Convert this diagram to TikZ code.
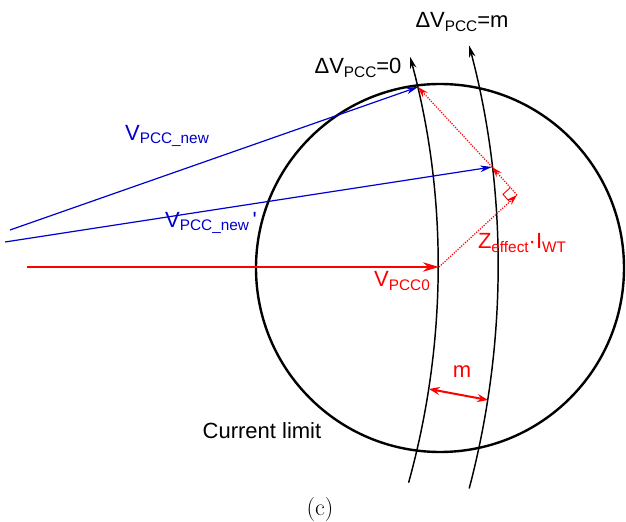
\documentclass[tikz,border=0pt]{standalone}
\usepackage{fontspec}
\usepackage{tikz}
\usetikzlibrary{arrows.meta,calc}
\newfontfamily\arial{Liberation Sans}
\newcommand{\lsub}[1]{\raisebox{-0.3ex}{\fontsize{11.5}{11.5}\selectfont #1}}

\begin{document}
\begin{tikzpicture}[x=0.75pt,y=0.75pt,
    lbl/.style={font=\arial\fontsize{16.5}{18}\selectfont, inner sep=0pt},
    vcurve/.style={line width=1.1pt, -{Stealth[length=9pt,width=5pt]}},
    bluevec/.style={blue!80!black, line width=0.9pt, -{Stealth[length=9pt,width=5pt]}},
    dotvec/.style={red, line width=0.9pt, densely dotted, -{Stealth[length=8pt,width=5pt]}}]
  \useasboundingbox (0,0) rectangle (626,522);

  % Define points
  \coordinate (O) at (-369,255);
  \coordinate (S0) at (27,255);
  \coordinate (Snew) at (10,292);
  \coordinate (Snew2) at (5,280);
  \coordinate (V0) at (439,255);
  \coordinate (Q) at (418,435);
  \coordinate (Q2) at (492,355);
  \coordinate (P) at (517,327);
  \coordinate (m1) at (429,133);
  \coordinate (m2) at (488,122);

  % Draw the current limit circle
  \draw[line width=1.8pt] (440,254) circle [radius=184];

  % Draw the constant voltage curves
  \draw[vcurve] ($(O)+(-15.5:807)$) arc[start angle=-15.5, end angle=15.1, radius=807];
  \draw[vcurve] ($(O)+(-14.8:867)$) arc[start angle=-14.8, end angle=14.8, radius=867];

  % Draw the voltage vectors
  \draw[red, line width=1.8pt, -{Stealth[length=12pt,width=7pt]}] (S0) -- (V0);
  \draw[bluevec] (Snew) -- (Q);
  \draw[bluevec] (Snew2) -- (Q2);

  % Draw the impedance drop
  \draw[dotvec] (V0) -- (P);
  \draw[dotvec] (P) -- (Q2);
  \draw[dotvec] (Q2) -- (Q);
  \coordinate (ra1) at ($(P)!7.5pt!(V0)$);
  \coordinate (ra2) at ($(P)!7.5pt!(Q2)$);
  \draw[red, line width=0.7pt] (ra1) -- ($(ra1)+(ra2)-(P)$) -- (ra2);

  % Draw the width m
  \draw[red, line width=1.5pt, {Stealth[length=8pt,width=6pt]}-{Stealth[length=8pt,width=6pt]}] (m1) -- (m2);

  % Label everything
  \node[lbl] (dv0) at (358,454) {ΔV\lsub{PCC}=0};
  \node[lbl] (dvm) at (462,500) {ΔV\lsub{PCC}=m};
  \node[lbl, blue!80!black] (vnew) at (167,386) {V\lsub{PCC\_new}};
  \node[lbl, blue!80!black] (vnew2) at (211,299) {V\lsub{PCC\_new}\,'};
  \node[lbl, red] (v0) at (402,241) {V\lsub{PCC0}};
  \node[lbl, red] (zi) at (522,279) {Z\lsub{effect}·I\lsub{WT}};
  \node[lbl, red] (m) at (462,150) {m};
  \node[lbl] (limit) at (262,91) {Current limit};
  \node[font=\fontsize{18}{20}\selectfont, inner sep=0pt] (cap) at (320,12) {(c)};

\end{tikzpicture}
\end{document}
